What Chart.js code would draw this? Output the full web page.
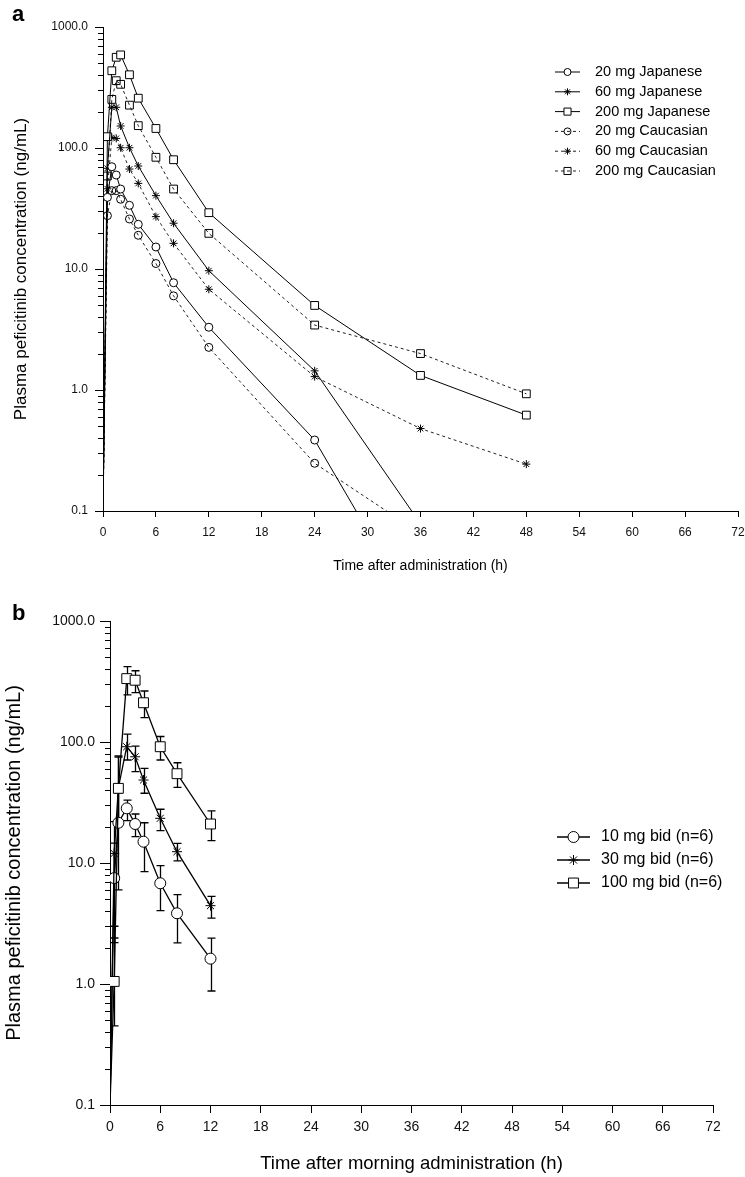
<!DOCTYPE html>
<html>
<head>
<meta charset="utf-8">
<script src="https://cdn.jsdelivr.net/npm/chart.js@4.4.1/dist/chart.umd.min.js"></script>
<style>
  body { margin: 0; background: #fff; }
  canvas { position: absolute; left: 0; }
  #chartA { top: 0; }
  #chartB { top: 590px; }
</style>
</head>
<body>
<canvas id="chartA" width="745" height="590"></canvas>
<canvas id="chartB" width="745" height="587"></canvas>
<script>
// panel a: single dose, Japanese vs Caucasian
const timesA = [0, 0.5, 1, 1.5, 2, 3, 4, 6, 8, 12, 24, 36, 48];
const jp20  = [0.1, 39.1, 70, 59.8, 45.8, 33.6, 23.4, 15.2, 7.7, 3.3, 0.386, 0.0123, null];
const jp60  = [0.1, 68, 217, 217, 152, 100.5, 71, 40.4, 23.9, 9.68, 1.44, 0.0785, null];
const jp200 = [0.1, 124, 435, 562, 588, 403, 258, 145, 80, 29.2, 5.0, 1.32, 0.62];
const ca20  = [0.1, 27.6, 44.4, 44.4, 37.7, 25.9, 19.0, 11.1, 6.0, 2.25, 0.248, 0.065, null];
const ca60  = [0.1, 46, 122, 120, 100.5, 67, 51, 27.1, 16.3, 6.8, 1.29, 0.48, 0.244];
const ca200 = [0.1, 58.7, 252, 360, 336, 226, 153, 83.8, 45.8, 19.7, 3.44, 2.0, 0.93];
const labelsA = ['20 mg Japanese', '60 mg Japanese', '200 mg Japanese',
                 '20 mg Caucasian', '60 mg Caucasian', '200 mg Caucasian'];

// panel b: bid dosing, mean with SD
const timesB = [0, 0.5, 1, 2, 3, 4, 6, 8, 12];
const bid10    = [0.1, 7.5, 21.5, 28.3, 21.0, 15.0, 6.8, 3.84, 1.62];
const bid10Lo  = [null, 2.2, 6.0, 22.4, 16.5, 8.5, 4.04, 2.19, 0.875];
const bid10Hi  = [null, 14.6, 38, 33.1, 25.4, 21.5, 9.5, 5.47, 2.39];
const bid30    = [0.1, 12.0, 42, 91.4, 75.5, 48.5, 23.4, 12.4, 4.44];
const bid30Lo  = [null, 3.0, 20, 71, 56.9, 37.7, 18.5, 10.4, 3.5];
const bid30Hi  = [null, 22, 75, 116, 92.6, 60.6, 27.8, 14.5, 5.3];
const bid100   = [0.1, 1.05, 41.4, 334, 324, 211, 91.4, 54.7, 21.0];
const bid100Lo = [null, 0.45, 22.6, 245, 256, 159, 71, 42.2, 15.3];
const bid100Hi = [null, 2.4, 76.6, 419, 388, 264, 111, 67.4, 27];
const labelsB = ['10 mg bid (n=6)', '30 mg bid (n=6)', '100 mg bid (n=6)'];

const decades = [0.1, 1, 10, 100, 1000];
const yTickVals = [];
decades.forEach(d => {
    for (let k = 1; k <= 9; k++) {
        if (d === 1000 && k > 1) break;
        yTickVals.push(+(d * k).toPrecision(3));
    }
});

const FONT = '"Liberation Sans", Arial, sans-serif';
const isDecade = v => Math.abs(Math.log10(v) - Math.round(Math.log10(v))) < 1e-9;
const pts = (times, vals) => times.map((t, i) => ({x: t, y: vals[i]})).filter(p => p.y !== null);

function series(label, times, vals, style, r, dashed, lw) {
    return {
        label: label,
        data: pts(times, vals),
        borderColor: dashed ? '#222' : '#000',
        borderWidth: lw,
        borderDash: dashed ? [3, 3] : [],
        pointStyle: style,
        pointRadius: ctx => (ctx.raw && ctx.raw.x === 0 ? 0 : r),
        pointBorderWidth: 1,
        pointBorderColor: '#000',
        pointBackgroundColor: dashed ? 'rgba(0,0,0,0)' : '#fff',
        tension: 0,
        fill: false
    };
}

// y tick marks: long for decades, short for the rest
const logTicks = {
    id: 'logTicks',
    afterDraw(chart, args, opts) {
        const s = chart.scales.y, c = chart.ctx;
        c.save();
        c.strokeStyle = '#000';
        c.lineWidth = 1;
        s.ticks.forEach(t => {
            const y = Math.round(s.getPixelForValue(t.value)) + 0.5;
            const len = isDecade(t.value) ? opts.major : opts.minor;
            c.beginPath();
            c.moveTo(s.right - len, y);
            c.lineTo(s.right, y);
            c.stroke();
        });
        c.restore();
    }
};

const panelLetter = {
    id: 'panelLetter',
    afterDraw(chart, args, opts) {
        const c = chart.ctx;
        c.save();
        c.font = 'bold 22px ' + FONT;
        c.fillStyle = '#000';
        c.textBaseline = 'alphabetic';
        c.fillText(opts.text, opts.x, opts.y);
        c.restore();
    }
};

// legend with line sample and marker
const lineLegend = {
    id: 'lineLegend',
    afterDraw(chart, args, opts) {
        const c = chart.ctx;
        chart.data.datasets.forEach((ds, i) => {
            const y = opts.y + i * opts.step;
            c.save();
            c.strokeStyle = ds.borderColor;
            c.lineWidth = ds.borderWidth;
            c.setLineDash(ds.borderDash);
            c.beginPath();
            c.moveTo(opts.x, y);
            c.lineTo(opts.x + opts.len, y);
            c.stroke();
            c.setLineDash([]);
            c.fillStyle = ds.pointBackgroundColor;
            c.strokeStyle = '#000';
            c.lineWidth = 1;
            Chart.helpers.drawPoint(c, {pointStyle: ds.pointStyle, radius: opts.r[i], borderWidth: 1, rotation: 0},
                opts.x + opts.len / 2, y);
            c.font = opts.size + 'px ' + FONT;
            c.fillStyle = '#000';
            c.textBaseline = 'middle';
            c.fillText(ds.label, opts.textX, y);
            c.restore();
        });
    }
};

// SD error bars under the points
const errorBars = {
    id: 'errorBars',
    beforeDatasetsDraw(chart, args, opts) {
        const c = chart.ctx, xs = chart.scales.x, ys = chart.scales.y, a = chart.chartArea;
        c.save();
        c.beginPath();
        c.rect(a.left, a.top, a.right - a.left, a.bottom - a.top);
        c.clip();
        c.strokeStyle = '#000';
        c.lineWidth = opts.width;
        chart.data.datasets.forEach(ds => {
            if (!ds.lo) return;
            ds.data.forEach((p, i) => {
                if (ds.lo[i] == null) return;
                const x = Math.round(xs.getPixelForValue(p.x)) + 0.5;
                const y1 = ys.getPixelForValue(ds.lo[i]);
                const y2 = ys.getPixelForValue(ds.hi[i]);
                c.beginPath();
                c.moveTo(x, y1); c.lineTo(x, y2);
                c.moveTo(x - opts.cap, y1); c.lineTo(x + opts.cap, y1);
                c.moveTo(x - opts.cap, y2); c.lineTo(x + opts.cap, y2);
                c.stroke();
            });
        });
        c.restore();
    }
};

function axes(cfg) {
    return {
        x: {
            type: 'linear',
            min: 0,
            max: 72,
            afterFit: s => { s.height = cfg.xHeight; s.paddingLeft = 0; s.paddingRight = 0; },
            border: { color: '#000', width: 1 },
            grid: { display: true, drawOnChartArea: false, drawTicks: true, tickLength: cfg.xTick, color: '#000' },
            ticks: {
                stepSize: 6, autoSkip: false, maxRotation: 0, padding: cfg.xPad,
                color: '#111', font: { family: FONT, size: cfg.tickSize }
            },
            title: {
                display: true, text: cfg.xTitle, color: '#000',
                font: { family: FONT, size: cfg.titleSize },
                padding: { top: 0, bottom: cfg.xTitlePad }
            }
        },
        y: {
            type: 'logarithmic',
            min: 0.1,
            max: 1000,
            afterFit: s => { s.width = cfg.yWidth; s.paddingTop = 0; s.paddingBottom = 0; },
            afterBuildTicks: s => { s.ticks = yTickVals.map(v => ({value: v, major: isDecade(v)})); },
            border: { color: '#000', width: 1 },
            grid: { display: false },
            ticks: {
                autoSkip: false, padding: cfg.yPad, color: '#111',
                font: { family: FONT, size: cfg.tickSize },
                callback: v => (isDecade(v) ? v.toFixed(1) : '')
            },
            title: {
                display: true, text: 'Plasma peficitinib concentration (ng/mL)', color: '#000',
                font: { family: FONT, size: cfg.yTitleSize },
                padding: { top: cfg.yTitlePad, bottom: 0 }
            }
        }
    };
}

new Chart(document.getElementById('chartA'), {
    type: 'line',
    data: {
        datasets: [
            series(labelsA[0], timesA, jp20, 'circle', 4, false, 1),
            series(labelsA[1], timesA, jp60, 'star', 4, false, 1),
            series(labelsA[2], timesA, jp200, 'rect', 5.5, false, 1),
            series(labelsA[3], timesA, ca20, 'circle', 4, true, 1),
            series(labelsA[4], timesA, ca60, 'star', 4, true, 1),
            series(labelsA[5], timesA, ca200, 'rect', 5.5, true, 1)
        ]
    },
    options: {
        responsive: false,
        animation: false,
        events: [],
        layout: { padding: { top: 27, right: 7, left: 0, bottom: 0 } },
        scales: axes({
            xHeight: 79, xTick: 6, xPad: 8, tickSize: 12, titleSize: 14, yTitleSize: 17,
            xTitle: 'Time after administration (h)', xTitlePad: 15,
            yWidth: 103, yPad: 7, yTitlePad: 11
        }),
        plugins: {
            legend: { display: false },
            tooltip: { enabled: false },
            logTicks: { major: 8, minor: 5 },
            panelLetter: { text: 'a', x: 12, y: 21 },
            lineLegend: { x: 555, len: 25, y: 72, step: 19.8, textX: 595, size: 14.5, r: [3.5, 3.5, 5, 3.5, 3.5, 5] }
        }
    },
    plugins: [logTicks, panelLetter, lineLegend]
});

const b10 = series(labelsB[0], timesB, bid10, 'circle', 5.5, false, 1.3);
b10.lo = bid10Lo; b10.hi = bid10Hi; b10.order = 2;
const b30 = series(labelsB[1], timesB, bid30, 'star', 5, false, 1.3);
b30.lo = bid30Lo; b30.hi = bid30Hi; b30.order = 1;
const b100 = series(labelsB[2], timesB, bid100, 'rect', 7, false, 1.3);
b100.lo = bid100Lo; b100.hi = bid100Hi; b100.order = 0;

new Chart(document.getElementById('chartB'), {
    type: 'line',
    data: { datasets: [b10, b30, b100] },
    options: {
        responsive: false,
        animation: false,
        events: [],
        layout: { padding: { top: 31, right: 32, left: 0, bottom: 0 } },
        scales: axes({
            xHeight: 72, xTick: 8, xPad: 6, tickSize: 14, titleSize: 18.5, yTitleSize: 20,
            xTitle: 'Time after morning administration (h)', xTitlePad: 2,
            yWidth: 110, yPad: 7, yTitlePad: 2
        }),
        plugins: {
            legend: { display: false },
            tooltip: { enabled: false },
            logTicks: { major: 10, minor: 5 },
            panelLetter: { text: 'b', x: 12, y: 30 },
            errorBars: { width: 1.3, cap: 4 },
            lineLegend: { x: 557, len: 33, y: 247, step: 23, textX: 601, size: 16, r: [5.5, 5, 7] }
        }
    },
    plugins: [logTicks, panelLetter, errorBars, lineLegend]
});
</script>
</body>
</html>
